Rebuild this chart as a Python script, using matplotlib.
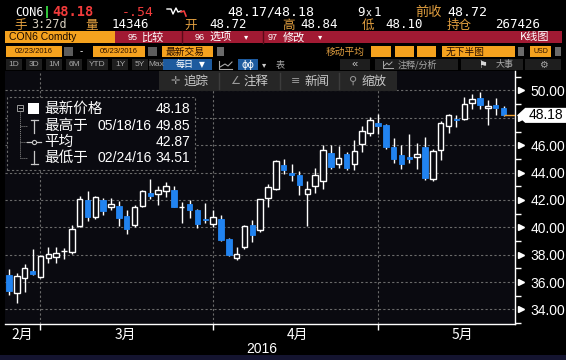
import numpy as np
import matplotlib.pyplot as plt
from matplotlib.patches import Rectangle, Polygon
from matplotlib.lines import Line2D
from matplotlib.ticker import MultipleLocator

W, H = 566, 360

# daily OHLC, 02/23/2016 - 05/23/2016
opens = [36.50, 35.17, 36.33, 36.79, 36.38, 37.79, 37.84, 38.24, 38.20, 40.10,
         41.97, 40.75, 42.02, 41.49, 41.53, 40.82, 40.15, 41.56, 42.50, 42.41,
         42.63, 42.70, 41.47, 41.68, 41.24, 40.61, 40.27, 40.63, 39.12, 37.76,
         38.56, 40.15, 39.78, 42.17, 42.77, 44.53, 43.96, 43.80, 42.46, 43.02,
         43.38, 45.42, 44.60, 45.33, 44.60, 46.06, 46.91, 47.64, 47.45, 45.86,
         45.26, 45.14, 45.14, 45.86, 43.56, 45.62, 47.37, 47.88, 47.88, 49.10,
         49.44, 48.74, 48.96, 48.72]
highs = [36.99, 36.70, 37.35, 38.39, 38.00, 38.54, 38.60, 38.52, 40.20, 42.29,
         42.63, 42.30, 42.17, 42.17, 41.92, 41.24, 41.61, 42.70, 43.50, 42.99,
         43.31, 42.99, 41.85, 42.02, 41.36, 41.80, 41.24, 40.88, 39.25, 38.56,
         40.20, 40.51, 42.10, 43.14, 44.90, 44.96, 44.65, 44.11, 43.36, 44.36,
         46.04, 46.04, 45.91, 45.50, 46.35, 47.37, 48.05, 48.30, 47.55, 46.52,
         46.04, 46.84, 46.18, 46.59, 45.74, 47.74, 48.30, 48.18, 49.51, 49.75,
         49.85, 49.27, 49.47, 48.84]
lows = [35.04, 34.51, 35.28, 36.50, 36.30, 37.37, 37.40, 37.66, 38.08, 40.02,
        40.46, 40.60, 40.88, 41.30, 40.10, 39.54, 40.02, 41.46, 42.09, 41.66,
        42.21, 41.45, 40.32, 40.71, 39.98, 40.32, 40.02, 38.98, 37.90, 37.59,
        38.40, 38.93, 39.65, 41.49, 42.70, 43.87, 43.38, 42.39, 40.07, 42.51,
        42.77, 44.28, 44.36, 44.21, 44.21, 45.50, 46.64, 46.79, 45.74, 44.73,
        44.28, 44.73, 44.28, 43.43, 43.38, 44.89, 46.91, 47.32, 47.81, 48.66,
        48.61, 47.50, 48.18, 48.10]
closes = [35.35, 36.45, 37.03, 36.57, 37.90, 38.08, 38.15, 38.29, 39.90, 42.09,
          40.75, 42.21, 41.19, 41.73, 40.71, 39.90, 41.49, 42.63, 42.29, 42.70,
          42.99, 41.49, 41.51, 41.29, 40.27, 40.51, 40.75, 39.05, 37.96, 38.03,
          40.07, 39.42, 42.04, 42.94, 44.82, 44.16, 43.85, 43.07, 42.82, 43.85,
          45.67, 44.40, 45.09, 44.33, 45.57, 47.01, 47.81, 47.39, 45.86, 45.01,
          44.60, 45.01, 45.38, 43.60, 45.55, 47.64, 48.18, 47.84, 49.03, 49.34,
          48.96, 48.90, 48.72, 48.18]

month_ticks = [4, 26, 47]
month_labels = ['2月', '3月', '4月', '5月']
month_label_pos = [1.7, 14.8, 36.8, 57.7]
year_label = '2016'
price_ticks = [34, 36, 38, 40, 42, 44, 46, 48, 50]

legend_names = ['最新价格', '最高于', '平均', '最低于']
legend_dates = ['', '05/18/16', '', '02/24/16']
legend_values = ['48.18', '49.85', '42.87', '34.51']

ORANGE = '#f5a21e'
OTXT = '#e3a040'
RED = '#f23b3b'
BLUE = '#2183f0'
CHART_BG = '#0a0a10'
GRID = '#6a6a6a'
CJK = ['Noto Sans CJK SC', 'DejaVu Sans']

plt.rcParams['font.family'] = CJK

fig = plt.figure(figsize=(W / 100, H / 100), dpi=100, facecolor='black')


def box(x0, y0, x1, y1, color, **kw):
    fig.add_artist(Rectangle((x0 / W, 1 - y1 / H), (x1 - x0) / W, (y1 - y0) / H,
                             transform=fig.transFigure, facecolor=color,
                             edgecolor=kw.pop('ec', 'none'), **kw))


def txt(x, y, s, color='white', size=9, ha='left', family=None, **kw):
    fig.text(x / W, 1 - y / H, s, color=color, fontsize=size, ha=ha, va='center',
             family=family or CJK, **kw)


def line(xs, ys, color='white', lw=1, **kw):
    fig.add_artist(Line2D([x / W for x in xs], [1 - y / H for y in ys],
                          transform=fig.transFigure, color=color, lw=lw, **kw))


MONO = ['DejaVu Sans Mono']
SANS = ['Liberation Sans', 'DejaVu Sans']

# ---- header rows
txt(15, 12, 'CON6', size=8.5, family=MONO)
box(46, 6, 47.5, 18, '#2fc23a')
txt(52, 12, '48.18', color=RED, size=9.8, family=MONO, weight='bold')
txt(122, 12, '-.54', color=RED, size=9.5, family=MONO)
line([167, 171, 173, 176, 178, 181], [9, 9, 14, 8, 12, 11], lw=1)
line([181, 184, 186], [12, 11, 16], color=RED, lw=1.2)
txt(227, 12, '48.17', size=9.5, family=MONO)
txt(266, 12, '/48.18', size=9.5, family=MONO)
txt(357, 12, '9', size=9, family=MONO)
txt(366, 13, 'x', size=7, family=MONO)
txt(374, 12, '1', size=9, family=MONO)
txt(415, 12, '前收', color=OTXT, size=9.5)
txt(447, 12, '48.72', size=9.5, family=MONO)

y2 = 25
txt(14, y2, '手', color=OTXT, size=9)
txt(31, y2, '3:27d', color='#d8d0c0', size=8.5, family=MONO)
txt(85, y2, '量', color=OTXT, size=9)
txt(112, y2, '14346', size=9, family=MONO)
txt(184, y2, '开', color=OTXT, size=9)
txt(209, y2, '48.72', size=9, family=MONO)
txt(282, y2, '高', color=OTXT, size=9)
txt(300, y2, '48.84', size=9, family=MONO)
txt(362, y2, '低', color=OTXT, size=9)
txt(385, y2, '48.10', size=9, family=MONO)
txt(447, y2, '持仓', color=OTXT, size=9)
txt(495, y2, '267426', size=9, family=MONO)

# row 3: security + red function bar
box(5, 31, 115, 43, ORANGE)
txt(9, 37, 'CON6 Comdty', color='#1a0a00', size=7.5, family=SANS)
box(115, 31, 562, 43, '#a11a33')
for sx in [182, 263]:
    line([sx, sx], [31, 43], color='#5a0a18', lw=1)
txt(128, 37, '95', size=6.5, family=SANS)
txt(141, 37, '比较', size=8)
txt(195, 37, '96', size=6.5, family=SANS)
txt(209, 37, '选项', size=8)
txt(244, 37, '▾', size=6, family=['DejaVu Sans'])
txt(268, 37, '97', size=6.5, family=SANS)
txt(283, 37, '修改', size=8)
txt(318, 37, '▾', size=6, family=['DejaVu Sans'])
txt(520, 37, 'K线图', size=8)

# row 4: date range, settings
y4a, y4b = 46, 57
box(6, y4a, 62, y4b, ORANGE)
txt(34, 51.5, '02/23/2016', color='#2a1000', size=5.5, ha='center', family=SANS)
box(64, y4a + 1, 73, y4b - 1, '#5c5c5c')
txt(80, 51.5, '-', size=7, family=SANS)
box(93, y4a, 145, y4b, ORANGE)
txt(119, 51.5, '05/23/2016', color='#2a1000', size=5.5, ha='center', family=SANS)
box(148, y4a + 1, 157, y4b - 1, '#5c5c5c')
box(162, y4a, 213, y4b, ORANGE)
txt(166, 51.5, '最新交易', color='#2a1000', size=7)
box(217, y4a + 1, 224, y4b - 1, '#6a6a6a')
txt(326, 51.5, '移动平均', color=OTXT, size=7)
for bx in [(371, 391), (395, 414), (417, 436)]:
    box(bx[0], y4a, bx[1], y4b, ORANGE)
box(442, y4a, 515, y4b, ORANGE)
txt(446, 51.5, '无下半图', color='#2a1000', size=7)
box(518, y4a + 1, 524, y4b - 1, '#6a6a6a')
box(530, y4a, 551, y4b, ORANGE)
txt(540.5, 51.5, 'USD', color='#2a1000', size=5, ha='center', family=SANS)
box(555, y4a + 1, 561, y4b - 1, '#6a6a6a')

# row 5: range buttons
y5a, y5b = 59, 70
for lab, x0, x1 in [('1D', 6, 22), ('3D', 26, 42), ('1M', 46, 62), ('6M', 66, 82),
                    ('YTD', 87, 108), ('1Y', 112, 128), ('5Y', 132, 148), ('Max', 149, 163)]:
    box(x0, y5a, x1, y5b, '#1e1e1e')
    txt((x0 + x1) / 2, 64.5, lab, color='#a8a8a8', size=6, ha='center', family=SANS)
box(163, y5a, 212, y5b, '#1d5a9e')
txt(176, 64.5, '每日', size=6.5)
txt(199, 64.5, '▼', size=5.5, family=['DejaVu Sans'])
line([219, 219, 232], [61, 69, 69], color='#a8a8a8', lw=0.8)
line([220, 225, 228, 232], [67, 64, 66, 62], color='#a8a8a8', lw=0.8)
box(238, y5a, 258, y5b, '#1d5a9e')
txt(248, 64.5, 'ϕϕ', size=7, ha='center', family=['DejaVu Sans'])
txt(262, 64.5, '▾', color='#cccccc', size=6, family=['DejaVu Sans'])
txt(276, 64.5, '表', color='#a8a8a8', size=6.5)
box(340, y5a, 370, y5b, '#1e1e1e')
txt(355, 64.5, '«', color='#c8c8c8', size=8, ha='center', family=SANS)
box(375, y5a, 458, y5b, '#1e1e1e')
# small chart-annotation icon
line([383, 383, 393], [61, 68, 68], color='#a8a8a8', lw=0.7)
line([384, 387, 389, 392], [66, 63, 65, 62], color='#a8a8a8', lw=0.7)
txt(398, 64.5, '注释/分析', color='#a8a8a8', size=6.5)
box(461, y5a, 523, y5b, '#1e1e1e')
txt(478, 64.5, '⚑', color='#d8d8d8', size=7, family=['DejaVu Sans'])
txt(496, 64.5, '大事', color='#a8a8a8', size=6.5)
box(525, y5a, 561, y5b, '#1e1e1e')
txt(543, 64.5, '⚙', color='#a8a8a8', size=7, ha='center', family=['DejaVu Sans'])

# bottom strip
box(0, 355, 566, 360, '#141430')

# ---- price chart
ax = fig.add_axes([5 / W, (H - 324) / H, 510 / W, (324 - 71) / H])
ax.set_facecolor(CHART_BG)
x = np.arange(len(closes))
o = np.array(opens)
c = np.array(closes)
up = c >= o

ax.vlines(x, lows, highs, color='white', lw=1, zorder=2)
bottom = np.minimum(o, c)
height = np.maximum(np.abs(c - o), 0.04)
ax.bar(x[up], height[up], bottom=bottom[up], width=0.7,
       facecolor=CHART_BG, edgecolor='white', lw=1, zorder=3)
ax.bar(x[~up], height[~up], bottom=bottom[~up], width=0.7,
       facecolor=BLUE, edgecolor=BLUE, lw=0.6, zorder=3)

ax.set_xlim(-0.51, 64.46)
ax.set_ylim(32.94, 51.42)

last = closes[-1]
ax.set_xticks(month_ticks)
ax.set_xticklabels([])
ax.set_yticks(price_ticks)
# the 48.00 label sits under the last-price tag
ax.set_yticklabels(['' if abs(v - last) < 1 else f'{v:.2f}' for v in price_ticks],
                   family=SANS, fontsize=10)
ax.yaxis.set_minor_locator(MultipleLocator(1))
ax.yaxis.tick_right()
ax.tick_params(axis='y', which='major', length=0, pad=11, colors='white')
ax.tick_params(axis='y', which='minor', length=4, width=1, color='white')
ax.tick_params(axis='x', length=4, width=1, color='white')
ax.grid(True, which='major', color=GRID, lw=0.8, ls=(0, (2, 2)))
ax.set_axisbelow(True)
for side in ['left', 'top']:
    ax.spines[side].set_visible(False)
for side in ['right', 'bottom']:
    ax.spines[side].set_color('white')
    ax.spines[side].set_linewidth(1)

ax.plot([1.012] * len(price_ticks), price_ticks, ls='none', marker='>', ms=4,
        color='white', transform=ax.get_yaxis_transform(), clip_on=False)

for pos, lab in zip(month_label_pos, month_labels):
    ax.text(pos, -0.045, lab, transform=ax.get_xaxis_transform(), color='white',
            fontsize=10, ha='center', va='center')
ax.text(0.503, -0.1, year_label, transform=ax.transAxes, color='white',
        fontsize=10, ha='center', va='center', family=SANS)

# last price line + tag
ax.hlines(last, x[-1], 64.46, color='#f0a030', lw=1, zorder=4)
tag = Polygon([(1.004, last), (1.02, last + 0.55), (1.1, last + 0.55),
               (1.1, last - 0.55), (1.02, last - 0.55)], closed=True,
              transform=ax.get_yaxis_transform(), facecolor='white',
              edgecolor='none', clip_on=False, zorder=6)
ax.add_patch(tag)
ax.text(1.06, last, f'{last:.2f}', transform=ax.get_yaxis_transform(),
        color='black', fontsize=10, ha='center', va='center', family=SANS,
        zorder=7, clip_on=False)

# chart toolbar
box(159, 71, 397, 91, '#262626', zorder=5)
for sx in [219, 280, 339]:
    line([sx, sx], [73, 89], color='#3c3c3c', lw=1, zorder=6)
tools = [('✛', 170, '追踪'), ('∠', 230, '注释'), ('≡', 291, '新闻'), ('⚲', 349, '缩放')]
for icon, tx, lab in tools:
    txt(tx, 81, icon, color='#9a9a9a', size=8, family=['DejaVu Sans'], zorder=6)
    txt(tx + 13, 81, lab, color='#c8c8c8', size=9, zorder=6)

# legend box
box(7, 97, 195, 170, CHART_BG, ec=GRID, lw=0.8, ls=(0, (2, 2)), zorder=5)
rows_y = [109, 126, 142, 158]
box(17, 105, 23, 111, 'none', ec='#9a9a9a', lw=0.7, zorder=6)
line([18.5, 21.5], [108, 108], color='#9a9a9a', lw=0.7, zorder=6)
line([20, 20], [111, rows_y[-1]], color='#8a8a8a', lw=0.7, ls=(0, (1, 1)), zorder=6)
for ry in rows_y[1:]:
    line([20, 27], [ry, ry], color='#8a8a8a', lw=0.7, ls=(0, (1, 1)), zorder=6)
box(28, 103, 39, 114, 'white', zorder=6)
line([34, 34], [120, 133], color='#c8c8c8', lw=0.9, zorder=6)
line([30.5, 37.5], [120, 120], color='#c8c8c8', lw=0.9, zorder=6)
line([27, 41], [142, 142], color='#c8c8c8', lw=0.9, zorder=6)
fig.add_artist(Line2D([34 / W], [1 - 142 / H], transform=fig.transFigure, marker='o',
                      ms=3, mfc=CHART_BG, mec='#c8c8c8', mew=0.8, zorder=7))
line([34, 34], [151, 164], color='#c8c8c8', lw=0.9, zorder=6)
line([30.5, 37.5], [164, 164], color='#c8c8c8', lw=0.9, zorder=6)
for ry, name, date, val in zip(rows_y, legend_names, legend_dates, legend_values):
    txt(44, ry, name, size=10.5, zorder=7)
    if date:
        txt(97, ry, date, size=10, family=SANS, zorder=7)
    txt(190, ry, val, size=10, ha='right', family=SANS, zorder=7)

fig.savefig('out.png', dpi=100, facecolor='black')
